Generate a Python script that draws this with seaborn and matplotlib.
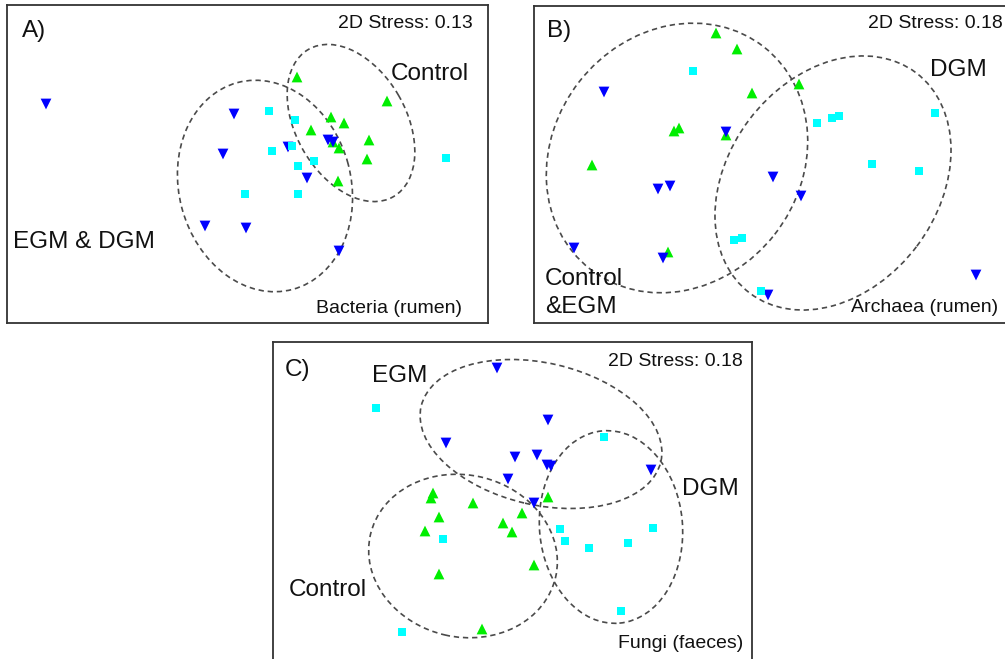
import numpy as np
import pandas as pd
import matplotlib
matplotlib.use("Agg")
import matplotlib.pyplot as plt
from matplotlib.patches import Ellipse
import seaborn as sns

# ---------------- data (NMDS coordinates, arbitrary units) ----------------
# Panel A: Bacteria (rumen)
a_ctrl_x = [290, 380, 324, 337, 304, 362, 326, 332, 360, 331]
a_ctrl_y = [246, 222, 206, 200, 193, 183, 181, 175, 164, 142]
a_egm_x = [39, 227, 216, 281, 321, 326, 300, 198, 239, 332]
a_egm_y = [219, 209, 169, 176, 183, 181, 145, 97, 95, 72]
a_dgm_x = [262, 288, 265, 285, 291, 307, 238, 291, 439]
a_dgm_y = [212, 203, 172, 177, 157, 162, 129, 129, 165]

# Panel B: Archaea (rumen)
b_ctrl_x = [182, 203, 218, 265, 145, 140, 192, 58, 134]
b_ctrl_y = [290, 274, 230, 239, 195, 192, 188, 158, 71]
b_egm_x = [70, 192, 124, 136, 239, 267, 40, 129, 234, 442]
b_egm_y = [231, 191, 134, 137, 146, 127, 75, 65, 28, 48]
b_dgm_x = [159, 283, 298, 305, 401, 338, 385, 200, 208, 227]
b_dgm_y = [252, 200, 205, 207, 210, 159, 152, 83, 85, 32]

# Panel C: Fungi (faeces)
c_ctrl_x = [160, 158, 200, 166, 249, 275, 230, 239, 152, 261, 166, 209]
c_ctrl_y = [169, 164, 159, 145, 149, 165, 139, 130, 131, 97, 88, 33]
c_egm_x = [224, 275, 173, 242, 264, 274, 278, 235, 378, 261]
c_egm_y = [294, 242, 219, 205, 207, 197, 196, 183, 192, 159]
c_dgm_x = [103, 331, 287, 292, 316, 355, 380, 170, 348, 129]
c_dgm_y = [254, 225, 133, 121, 114, 119, 134, 123, 51, 30]

panel_letters = ["A)", "B)", "C)"]
stress_labels = ["2D Stress: 0.13", "2D Stress: 0.18", "2D Stress: 0.18"]
subtitles = ["Bacteria (rumen)", "Archaea (rumen)", "Fungi (faeces)"]
groups = ["Control", "EGM", "DGM"]

# ---------------- styling ----------------
sns.set_style("white")
plt.rcParams["font.family"] = ["Liberation Sans", "DejaVu Sans"]
plt.rcParams["text.color"] = "#111111"

palette = {"Control": "#00ee00", "EGM": "#0000ff", "DGM": "#00ffff"}
markers = {"Control": "^", "EGM": "v", "DGM": "s"}
sizes = {"Control": 60, "EGM": 60, "DGM": 38}

W, H = 1005, 659
fig = plt.figure(figsize=(W / 100, H / 100), dpi=100)
fig.patch.set_facecolor("white")


def make_ax(left, top, right, bottom):
    ax = fig.add_axes([left / W, 1 - bottom / H, (right - left) / W, (bottom - top) / H])
    ax.set_xlim(0, right - left)
    ax.set_ylim(0, bottom - top)
    return ax


def frame(xs, ys):
    rows = []
    for g, x, y in zip(groups, xs, ys):
        for xi, yi in zip(x, y):
            rows.append({"NMDS1": xi, "NMDS2": yi, "group": g})
    return pd.DataFrame(rows)


def draw(ax, df):
    sns.scatterplot(data=df, x="NMDS1", y="NMDS2", hue="group", style="group",
                    size="group", sizes=sizes, palette=palette, markers=markers,
                    linewidth=0, legend=False, ax=ax, zorder=3)
    ax.set_xticks([])
    ax.set_yticks([])
    ax.set_xlabel("")
    ax.set_ylabel("")
    for s in ax.spines.values():
        s.set_visible(True)
        s.set_color("#333333")
        s.set_linewidth(1.3)


def ell(ax, cx, cy, w, h, ang):
    e = Ellipse((cx, cy), w, h, angle=ang, fill=False, edgecolor="#4a4a4a",
                linewidth=1.2, linestyle=(0, (3.2, 2.3)), zorder=2)
    ax.add_patch(e)


big = 17.5
small = 14

# ---- Panel A ----
axA = make_ax(7, 5, 488, 323)
dfA = frame([a_ctrl_x, a_egm_x, a_dgm_x], [a_ctrl_y, a_egm_y, a_dgm_y])
draw(axA, dfA)
ell(axA, 258, 137, 214, 172, 105)
ell(axA, 344, 200, 170, 110, 120)
axA.text(15, 286, panel_letters[0], fontsize=big, va="baseline")
axA.text(466, 295, stress_labels[0], fontsize=small, ha="right", va="baseline")
axA.text(384, 243, "Control", fontsize=big, va="baseline")
axA.text(6, 75, "EGM & DGM", fontsize=big, va="baseline")
axA.text(455, 10, subtitles[0], fontsize=small, ha="right", va="baseline")

# ---- Panel B ----
axB = make_ax(534, 6, 1012, 323)
dfB = frame([b_ctrl_x, b_egm_x, b_dgm_x], [b_ctrl_y, b_egm_y, b_dgm_y])
draw(axB, dfB)
ell(axB, 143, 165, 282, 248, 52)
ell(axB, 299, 140, 276, 210, 53)
axB.text(13, 286, panel_letters[1], fontsize=big, va="baseline")
axB.text(469, 295, stress_labels[1], fontsize=small, ha="right", va="baseline")
axB.text(396, 247, "DGM", fontsize=big, va="baseline")
axB.text(11, 38, "Control", fontsize=big, va="baseline")
axB.text(11, 10, "&EGM", fontsize=big, va="baseline")
axB.text(464, 11, subtitles[1], fontsize=small, ha="right", va="baseline")

# ---- Panel C ----
axC = make_ax(273, 342, 752, 662)
dfC = frame([c_ctrl_x, c_egm_x, c_dgm_x], [c_ctrl_y, c_egm_y, c_dgm_y])
draw(axC, dfC)
ell(axC, 268, 228, 246, 142, -13)
ell(axC, 190, 106, 190, 162, -13)
ell(axC, 338, 135, 143, 193, 5)
axC.text(12, 286, panel_letters[2], fontsize=big, va="baseline")
axC.text(470, 296, stress_labels[2], fontsize=small, ha="right", va="baseline")
axC.text(99, 280, "EGM", fontsize=big, va="baseline")
axC.text(409, 167, "DGM", fontsize=big, va="baseline")
axC.text(16, 66, "Control", fontsize=big, va="baseline")
axC.text(470, 14, subtitles[2], fontsize=small, ha="right", va="baseline")

fig.savefig("out.png", dpi=100, facecolor="white")
